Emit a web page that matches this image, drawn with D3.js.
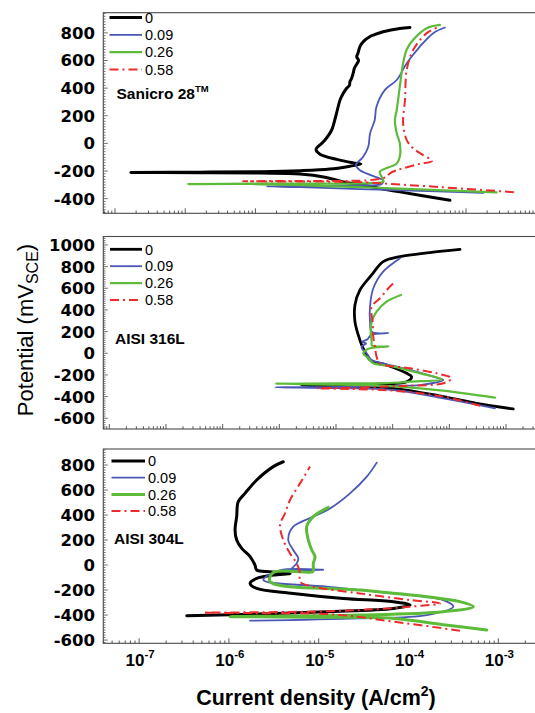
<!DOCTYPE html>
<html>
<head>
<meta charset="utf-8">
<script src="https://cdn.jsdelivr.net/npm/d3@7"></script>
<style>
  body { margin: 0; background: #fff; }
  svg { display: block; font-family: "Liberation Sans", Arial, sans-serif; }
</style>
</head>
<body>
<svg id="chart" width="535" height="713"></svg>
<script>
// Chloride concentrations shown in each legend
const concentrations = ["0", "0.09", "0.26", "0.58"];
const alloys = ["Sanicro 28", "AISI 316L", "AISI 304L"];

// Polarization curves: [potential (mV SCE), current density (A/cm2)]
// Sanicro 28
const sanicro_0 = [[-411,5.9e-5],[-351,1.14e-5],[-301,3.2e-6],[-279,1.78e-6],[-245,9.8e-7],[-222,4.3e-7],[-215,1.16e-7],[-212,1.62e-8],[-210,1.68e-9],[-208,1.62e-8],[-205,1.16e-7],[-198,4.3e-7],[-186,1.15e-6],[-165,2.22e-6],[-150,3.18e-6],[-141,2.47e-6],[-116,1.44e-6],[-78,8.3e-7],[-44,7.3e-7],[0,8.8e-7],[25,9.8e-7],[97,1.22e-6],[200,1.40e-6],[327,1.64e-6],[399,1.99e-6],[420,2.18e-6],[447,2.22e-6],[470,2.34e-6],[508,2.47e-6],[545,2.57e-6],[580,2.82e-6],[600,2.95e-6],[628,2.77e-6],[650,2.88e-6],[701,3.08e-6],[740,3.5e-6],[774,4.3e-6],[786,4.9e-6],[808,6.6e-6],[832,1.14e-5],[839,1.59e-5]];
const sanicro_009 = [[-358,1.76e-4],[-339,1.14e-5],[-331,3.1e-6],[-317,4.3e-7],[-311,1.44e-7],[-308,4.3e-7],[-303,3.1e-6],[-294,6.3e-6],[-266,6.6e-6],[-254,5.9e-6],[-194,3.08e-6],[-157,2.70e-6],[-97,3.43e-6],[-25,4.05e-6],[73,4.3e-6],[168,5.0e-6],[266,5.3e-6],[387,7.0e-6],[459,1.03e-5],[580,1.43e-5],[701,2.2e-5],[798,3.41e-5],[839,5.0e-5]];
const sanicro_026 = [[-355,2.73e-4],[-327,1.14e-5],[-317,3.1e-6],[-303,4.3e-7],[-294,8.4e-8],[-295,1.10e-8],[-291,8.4e-8],[-291,4.3e-7],[-288,4.3e-6],[-278,6.6e-6],[-266,6.6e-6],[-242,6.3e-6],[-206,5.9e-6],[-145,1.03e-5],[-97,1.14e-5],[0,1.14e-5],[73,1.03e-5],[168,9.7e-6],[242,1.03e-5],[411,1.14e-5],[580,1.27e-5],[680,1.43e-5],[750,1.77e-5],[834,2.75e-5],[858,4.25e-5]];
const sanicro_058 = [[-353,4.8e-4],[-310,2.75e-5],[-290,6.6e-6],[-280,3.08e-6],[-276,4.3e-7],[-274,6.6e-8],[-272,4.3e-7],[-270,3.08e-6],[-266,4.3e-6],[-254,6.3e-6],[-242,7.4e-6],[-218,8.2e-6],[-194,1.03e-5],[-181,1.27e-5],[-150,2.1e-5],[-126,3.3e-5],[-85,2.45e-5],[-36,1.77e-5],[24,1.43e-5],[145,1.27e-5],[314,1.35e-5],[532,1.43e-5],[677,1.77e-5],[798,2.75e-5],[847,4.25e-5]];

// AISI 316L
const aisi316_0 = [[-514,1.34e-3],[-462,3.03e-4],[-400,7.8e-5],[-323,1.03e-5],[-305,1.2e-6],[-293,2.48e-7],[-290,1.2e-6],[-285,5.2e-6],[-262,1.77e-5],[-216,2.16e-5],[-185,1.77e-5],[-108,7.8e-6],[-62,3.98e-6],[15,3.24e-6],[77,2.84e-6],[169,2.47e-6],[292,2.16e-6],[446,2.16e-6],[585,2.65e-6],[723,4.26e-6],[846,6.8e-6],[892,1.35e-5],[930,4.5e-5],[960,1.54e-4]];
const aisi316_009 = [[-508,6.4e-4],[-416,7.8e-5],[-339,1.03e-5],[-322,1.2e-6],[-314,8.4e-8],[-310,1.2e-6],[-300,1.03e-5],[-293,3.03e-5],[-246,7.8e-5],[-216,5.2e-5],[-154,2.02e-5],[-92,6.8e-6],[-62,4.26e-6],[0,3.48e-6],[40,2.9e-6],[62,2.84e-6],[90,3.4e-6],[107,2.9e-6],[130,3.6e-6],[170,4.2e-6],[186,8.4e-6],[196,4.3e-6],[292,3.98e-6],[430,3.98e-6],[600,4.55e-6],[753,6.8e-6],[877,1.35e-5]];
const aisi316_026 = [[-410,6.4e-4],[-345,7.8e-5],[-305,1.03e-5],[-290,1.2e-6],[-280,8.4e-8],[-278,1.2e-6],[-272,1.03e-5],[-262,2.02e-5],[-240,7.3e-5],[-185,3.03e-5],[-123,1.03e-5],[-92,4.55e-6],[-46,3.71e-6],[0,3.03e-6],[20,3.2e-6],[46,3.98e-6],[62,8.4e-6],[72,4.3e-6],[107,4.26e-6],[200,4.1e-6],[292,4.26e-6],[384,5.2e-6],[476,7.8e-6],[538,1.4e-5]];
const aisi316_058 = [[-485,3.5e-4],[-400,7.8e-5],[-345,1.03e-5],[-330,2e-6],[-323,4.57e-7],[-318,2e-6],[-305,1.03e-5],[-299,2.02e-5],[-277,7.8e-5],[-231,1.10e-4],[-185,5.97e-5],[-138,2.02e-5],[-92,5.97e-6],[-31,5.2e-6],[62,4.87e-6],[154,4.55e-6],[277,4.45e-6],[430,4.26e-6],[508,5.97e-6],[600,8.4e-6],[661,1.10e-5]];

// AISI 304L
const aisi304_0 = [[-405,3.39e-7],[-392,2.22e-6],[-373,1.23e-5],[-347,6.8e-5],[-320,1.04e-4],[-293,6.8e-5],[-267,1.88e-5],[-227,5.2e-6],[-187,2.04e-6],[-147,1.72e-6],[-107,2.04e-6],[-80,3.12e-6],[-67,4.79e-6],[-53,2.87e-6],[-40,2.04e-6],[0,1.95e-6],[67,1.72e-6],[133,1.39e-6],[200,1.22e-6],[280,1.17e-6],[387,1.22e-6],[507,1.27e-6],[573,1.51e-6],[680,2.04e-6],[787,3.12e-6],[826,4.03e-6]];
const aisi304_009 = [[-445,1.72e-6],[-427,2.88e-5],[-400,1.60e-4],[-333,3.15e-4],[-280,2.44e-4],[-227,6.8e-5],[-173,1.23e-5],[-120,2.42e-6],[-42,3.71e-6],[-38,1.12e-5],[-33,5.0e-6],[13,5.69e-6],[53,5.93e-6],[120,5.2e-6],[200,4.58e-6],[307,5.2e-6],[387,8.7e-6],[453,1.34e-5],[573,2.23e-5],[707,3.43e-5],[819,4.43e-5]];
const aisi304_026 = [[-520,7.43e-4],[-477,2.44e-4],[-427,6.8e-5],[-418,1e-5],[-413,1.03e-6],[-407,5e-6],[-400,2.88e-5],[-373,2.44e-4],[-333,5.27e-4],[-293,3.74e-4],[-253,1.60e-4],[-200,2.88e-5],[-133,2.87e-6],[-60,3.12e-6],[-55,8.5e-6],[-45,8.7e-6],[13,8.7e-6],[67,9.1e-6],[120,8.36e-6],[200,7.66e-6],[307,7.35e-6],[387,8.7e-6],[461,1.28e-5]];
const aisi304_058 = [[-525,3.74e-4],[-453,6.8e-5],[-395,1.5e-5],[-385,2e-6],[-381,5.19e-7],[-375,5e-6],[-360,2.88e-5],[-333,1.04e-4],[-307,2.24e-4],[-280,1.04e-4],[-227,2.88e-5],[-173,8.7e-6],[-133,6.19e-6],[-67,6.19e-6],[13,5.69e-6],[93,4.79e-6],[200,4.03e-6],[320,3.71e-6],[413,4.21e-6],[520,4.79e-6],[653,6.19e-6],[787,8.0e-6]];

// Axis tick labels
const yTicksSanicro = [-400, -200, 0, 200, 400, 600, 800];
const yTicks316 = [-600, -400, -200, 0, 200, 400, 600, 800, 1000];
const yTicks304 = [-600, -400, -200, 0, 200, 400, 600, 800];
const xTickExponents = [-7, -6, -5, -4, -3];

// ---- layout & styles ----
const styles = [
  { color: "#000000", dash: null },
  { color: "#4b57b6", dash: null },
  { color: "#5cbc3a", dash: null },
  { color: "#ec2b2b", dash: "9,4,2,4" }
];
const left = 103.3, right = 545;
const panels = [
  { name: alloys[0], sup: "TM", top: 12.7, bottom: 213.3, xLog: [-9.167, -2.875], yDom: [-506, 946],
    ticks: yTicksSanicro, series: [sanicro_0, sanicro_009, sanicro_026, sanicro_058],
    legendY: 17.5, legendStep: 17.3, lineX: [109.5, 142], nameX: 116.5, nameY: 99, widths: [3, 1.8, 2.2, 2] },
  { name: alloys[1], sup: "", top: 236.5, bottom: 429, xLog: [-10.106, -2.312], yDom: [-699, 1078],
    ticks: yTicks316, series: [aisi316_0, aisi316_009, aisi316_026, aisi316_058],
    legendY: 249.3, legendStep: 16.9, lineX: [110, 142], nameX: 115, nameY: 343.5, widths: [2.8, 1.8, 2.2, 2] },
  { name: alloys[2], sup: "", top: 449, bottom: 643.3, xLog: [-7.399, -2.48], yDom: [-626, 928],
    ticks: yTicks304, series: [aisi304_0, aisi304_009, aisi304_026, aisi304_058],
    legendY: 461, legendStep: 16.7, lineX: [111.5, 145], nameX: 114, nameY: 543.5, widths: [3, 1.8, 3, 2] }
];

const svg = d3.select("#chart");
const axisColor = "#4a4a4a";

panels.forEach((p, pi) => {
  const x = d3.scaleLog()
    .domain([Math.pow(10, p.xLog[0]), Math.pow(10, p.xLog[1])])
    .range([left, right]);
  const y = d3.scaleLinear().domain(p.yDom).range([p.bottom, p.top]);

  const g = svg.append("g");
  const clipId = "clip" + pi;
  svg.append("clipPath").attr("id", clipId)
    .append("rect").attr("x", left).attr("y", p.top)
    .attr("width", right - left).attr("height", p.bottom - p.top);

  // frame
  g.append("rect").attr("x", left).attr("y", p.top)
    .attr("width", right - left).attr("height", p.bottom - p.top)
    .attr("fill", "none").attr("stroke", axisColor).attr("stroke-width", 1.1);

  // left axis: major ticks every 200 mV, minor every 20 mV (inward)
  const minorY = d3.range(Math.ceil(p.yDom[0] / 20) * 20, p.yDom[1], 20);
  g.selectAll(".ytick").data(minorY).join("line")
    .attr("x1", left).attr("x2", d => left + (d % 200 === 0 ? 4.5 : 2.2))
    .attr("y1", d => y(d)).attr("y2", d => y(d))
    .attr("stroke", axisColor).attr("stroke-width", 0.8);
  g.selectAll(".ylab").data(p.ticks).join("text")
    .attr("x", 95).attr("y", d => y(d)).attr("dy", "0.36em")
    .attr("text-anchor", "end")
    .attr("font-family", "'DejaVu Sans', sans-serif")
    .attr("font-size", 16.5).attr("font-weight", "bold")
    .text(d => d);

  // bottom axis: logarithmic ticks (inward)
  const [d0, d1] = x.domain();
  const xt = [];
  for (let e = Math.floor(Math.log10(d0)); e <= Math.ceil(Math.log10(d1)); e++) {
    for (let m = 1; m <= 9; m++) {
      const v = m * Math.pow(10, e);
      if (v >= d0 && v <= d1) xt.push({ v, major: m === 1 });
    }
  }
  g.selectAll(".xtick").data(xt).join("line")
    .attr("x1", d => x(d.v)).attr("x2", d => x(d.v))
    .attr("y1", p.bottom).attr("y2", d => p.bottom - (d.major ? 5 : 2.8))
    .attr("stroke", axisColor).attr("stroke-width", 0.9);

  // curves
  const line = d3.line()
    .x(d => x(d[1])).y(d => y(d[0]))
    .curve(d3.curveCatmullRom.alpha(0.5));
  const cg = g.append("g").attr("clip-path", `url(#${clipId})`);
  p.series.forEach((s, si) => {
    cg.append("path").datum(s)
      .attr("d", line)
      .attr("fill", "none")
      .attr("stroke", styles[si].color)
      .attr("stroke-width", p.widths[si])
      .attr("stroke-linejoin", "round")
      .attr("stroke-linecap", styles[si].dash ? "butt" : "round")
      .attr("stroke-dasharray", styles[si].dash);
  });

  // legend
  concentrations.forEach((c, i) => {
    const ly = p.legendY + i * p.legendStep;
    g.append("line").attr("x1", p.lineX[0]).attr("x2", p.lineX[1])
      .attr("y1", ly).attr("y2", ly)
      .attr("stroke", styles[i].color).attr("stroke-width", p.widths[i])
      .attr("stroke-dasharray", styles[i].dash);
    g.append("text").attr("x", p.lineX[1] + 3).attr("y", ly).attr("dy", "0.36em")
      .attr("font-size", 14.5).text(c);
  });

  // alloy name
  const t = g.append("text").attr("x", p.nameX).attr("y", p.nameY)
    .attr("font-size", 15.5).attr("font-weight", "bold").text(p.name);
  if (p.sup) {
    t.append("tspan").attr("font-size", 9.5).attr("dy", -7).text(p.sup);
  }

  // decade labels on the bottom panel only
  if (pi === panels.length - 1) {
    xTickExponents.forEach(e => {
      const lab = svg.append("text")
        .attr("x", x(Math.pow(10, e)) + 1).attr("y", 666)
        .attr("text-anchor", "middle").attr("font-size", 17).attr("font-weight", "bold");
      lab.append("tspan").text("10");
      lab.append("tspan").attr("font-size", 11.5).attr("dy", -8).text(String(e));
    });
  }
});

// axis titles
const xt = svg.append("text").attr("x", 316).attr("y", 705)
  .attr("text-anchor", "middle").attr("font-size", 21.5).attr("font-weight", "bold");
xt.append("tspan").text("Current density (A/cm");
xt.append("tspan").attr("font-size", 14).attr("dy", -9).text("2");
xt.append("tspan").attr("dy", 9).text(")");

const yt = svg.append("text")
  .attr("transform", "translate(33,330) rotate(-90)")
  .attr("text-anchor", "middle").attr("font-size", 22);
yt.append("tspan").text("Potential (mV");
yt.append("tspan").attr("font-size", 16).attr("dy", 5).text("SCE");
yt.append("tspan").attr("dy", -5).text(")");
</script>
</body>
</html>
